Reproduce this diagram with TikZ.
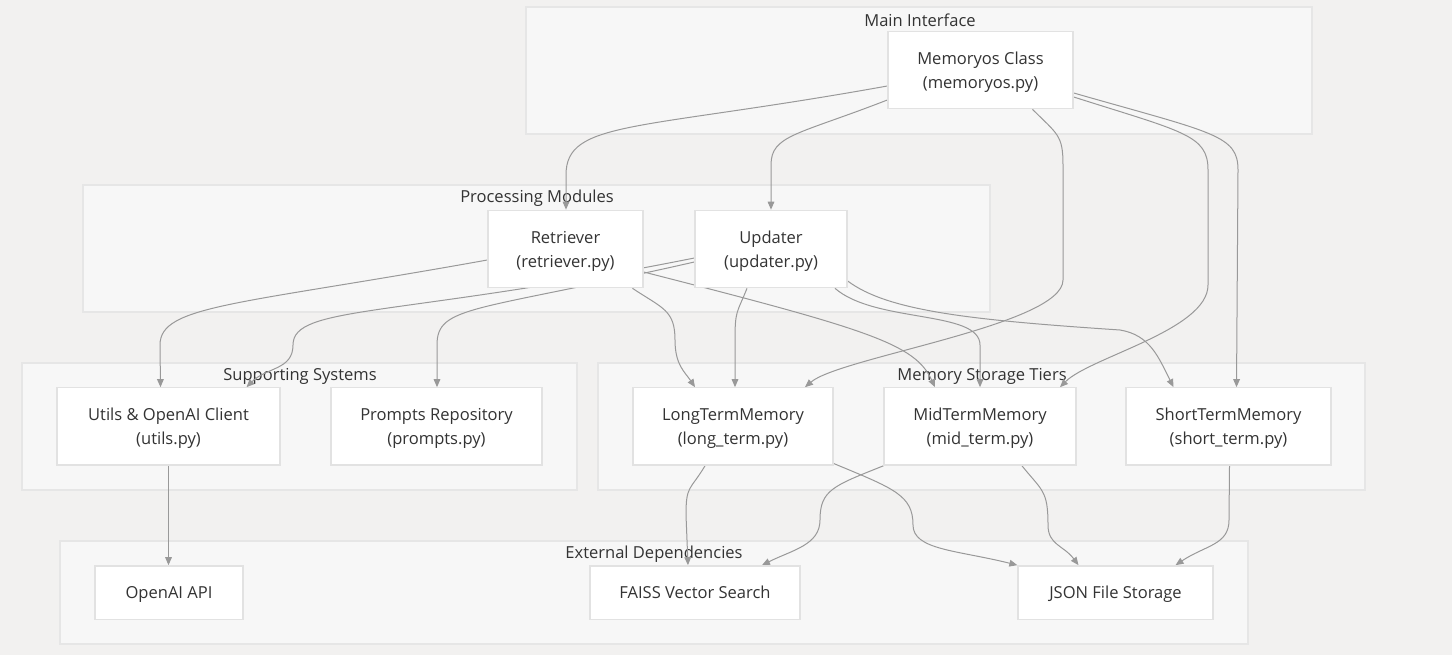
\documentclass[tikz,border=0pt]{standalone}
\usepackage{fontspec}
\setmainfont{Open Sans}
\usetikzlibrary{arrows.meta,calc}
\definecolor{bgcol}{RGB}{242,241,240}
\definecolor{clusterfill}{RGB}{247,247,247}
\definecolor{clusterline}{RGB}{230,230,230}
\definecolor{boxline}{RGB}{226,226,226}
\definecolor{edgecol}{RGB}{153,153,153}
\definecolor{txt}{RGB}{51,51,51}
\pgfdeclarelayer{back}
\pgfdeclarelayer{edges}
\pgfsetlayers{back,edges,main}
\tikzset{
  cluster/.style={draw=clusterline, fill=clusterfill, line width=1.2pt},
  ctitle/.style={font=\fontsize{12.4}{14}\selectfont, text=txt, inner sep=0pt},
  box/.style={draw=boxline, fill=white, line width=1pt, align=center, inner sep=0pt,
    minimum height=58pt, text height=27.5pt, text depth=0pt, font=\fontsize{12.4}{18}\selectfont, text=txt},
  extbox/.style={box, minimum height=40pt, text height=12pt, text depth=2.5pt},
  edge/.style={draw=edgecol, line width=0.75pt, -{Triangle[length=6pt,width=5pt]}},
}
\begin{document}
\begin{tikzpicture}[x=0.75pt,y=-0.75pt]
% groups
\begin{pgfonlayer}{back}
\fill[bgcol] (0,0) rectangle (1452,655);
\draw[cluster] (526,7) rectangle (1312,134);
\node[ctitle] (tmain) at (920,20) {Main Interface};
\draw[cluster] (83,185) rectangle (990,312);
\node[ctitle] (tproc) at (537,198) {Processing Modules};
\draw[cluster] (22,363) rectangle (577,490);
\node[ctitle] (tsupp) at (300,376) {Supporting Systems};
\draw[cluster] (598,363) rectangle (1365,490);
\node[ctitle] (ttier) at (982,376) {Memory Storage Tiers};
\draw[cluster] (60,541) rectangle (1248,644);
\node[ctitle] (text) at (654,554) {External Dependencies};
\end{pgfonlayer}
% nodes
\node[box, minimum width=138.75pt] (mem) at (980.5,70) {Memoryos Class\\(memoryos.py)};
\node[box, minimum width=116.25pt] (ret) at (565.5,249) {Retriever\\(retriever.py)};
\node[box, minimum width=114pt] (upd) at (771,249) {Updater\\(updater.py)};
\node[box, minimum width=167.25pt] (utils) at (168.5,426.5) {Utils \& OpenAI Client\\(utils.py)};
\node[box, minimum width=158.25pt] (prompts) at (436.5,426.5) {Prompts Repository\\(prompts.py)};
\node[box, minimum width=150pt] (ltm) at (733,426.5) {LongTermMemory\\(long\_term.py)};
\node[box, minimum width=144pt] (mtm) at (980,426.5) {MidTermMemory\\(mid\_term.py)};
\node[box, minimum width=153.75pt] (stm) at (1228.5,426.5) {ShortTermMemory\\(short\_term.py)};
\node[extbox, minimum width=111pt] (openai) at (169,592.5) {OpenAI API};
\node[extbox, minimum width=157.5pt] (faiss) at (695,592.5) {FAISS Vector Search};
\node[extbox, minimum width=146.25pt] (json) at (1115.5,592.5) {JSON File Storage};
% connectors
\begin{pgfonlayer}{edges}
\draw[edge] ($(mem.west)+(0,16)$) .. controls +(-250,45) and +(0,-55) .. (566,175) -- ($(ret.north)+(0.5,0)$);
\draw[edge] ($(mem.west)+(0,30)$) .. controls +(-90,35) and +(0,-30) .. (771,165) -- (upd.north);
\draw[edge] ($(mem.south)+(52,0)$) .. controls +(25,25) and +(0,-30) .. (1063,165) -- (1063,280)
  .. controls +(0,45) and +(35,-30) .. ($(ltm.north)+(72,0)$);
\draw[edge] ($(mem.east)+(0,27)$) .. controls +(110,35) and +(0,-35) .. (1208,170) -- (1208,285)
  .. controls +(0,45) and +(30,-30) .. ($(mtm.north)+(80,0)$);
\draw[edge] ($(mem.east)+(0,23)$) .. controls +(140,40) and +(0,-35) .. (1238,170) -- ($(stm.north)+(8,0)$);
\draw[edge] ($(ret.west)+(0,11)$) .. controls +(-250,45) and +(0,-40) .. (160,345) -- ($(utils.north)+(-8,0)$);
\draw[edge] ($(upd.west)+(0,9)$) .. controls +(-300,60) and +(0,-40) .. (293,345)
  .. controls +(0,25) and +(20,-20) .. ($(utils.north)+(78,0)$);
\draw[edge] ($(upd.west)+(0,13)$) .. controls +(-220,50) and +(0,-40) .. (437,345) -- ($(prompts.north)+(0.5,0)$);
\draw[edge] ($(ret.south)+(67,0)$) .. controls +(30,20) and +(0,-30) .. (675,340)
  .. controls +(0,25) and +(-10,-15) .. ($(ltm.north)+(-38,0)$);
\draw[edge] ($(upd.south)+(-24,0)$) .. controls +(-10,25) and +(0,-30) .. (735,340) -- ($(ltm.north)+(2,0)$);
\draw[edge] ($(ret.east)+(0,23)$) .. controls +(227,58) and +(-20,-43) .. ($(mtm.north)+(-45,0)$);
\draw[edge] ($(upd.south)+(64,0)$) .. controls +(40,35) and +(0,-35) .. (980,345) -- (mtm.north);
\draw[edge] ($(upd.east)+(0,32)$) .. controls +(40,30) and +(-150,-10) .. (1120,330)
  .. controls +(30,5) and +(-15,-30) .. ($(stm.north)+(-55,0)$);
\draw[edge] (utils.south) -- (utils.south |- openai.north);
\draw[edge] ($(ltm.south)+(-28,0)$) .. controls +(-15,25) and +(0,-30) .. (686,515) -- ($(faiss.north)+(-7,0)$);
\draw[edge] ($(ltm.east)+(0,37)$) .. controls +(60,25) and +(0,-30) .. (913,525)
  .. controls +(0,25) and +(-60,-15) .. (json.north west);
\draw[edge] (mtm.south west) .. controls +(-50,20) and +(0,-30) .. (820,520)
  .. controls +(0,25) and +(30,-15) .. ($(faiss.north)+(67,0)$);
\draw[edge] ($(mtm.south)+(42,0)$) .. controls +(20,25) and +(0,-35) .. (1048,525)
  .. controls +(0,20) and +(-15,-20) .. ($(json.north)+(-37,0)$);
\draw[edge] ($(stm.south)+(1,0)$) -- (1229,520) .. controls +(0,25) and +(30,-20) .. ($(json.north)+(60,0)$);
\end{pgfonlayer}
\end{tikzpicture}
\end{document}
